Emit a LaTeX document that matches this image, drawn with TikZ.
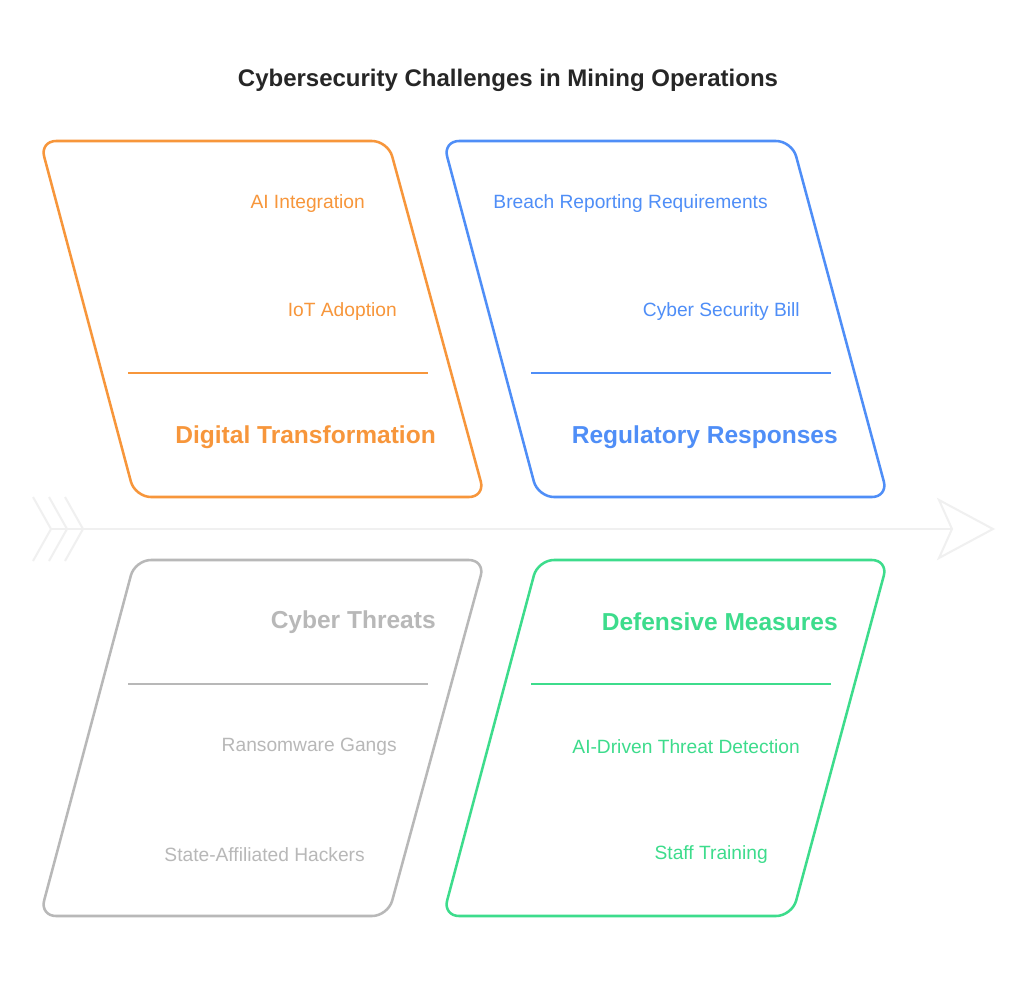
\documentclass[tikz,border=0pt]{standalone}
\usepackage{fontspec}
\setmainfont{Liberation Sans}
\definecolor{corange}{HTML}{F7963B}
\definecolor{cblue}{HTML}{4F8EF7}
\definecolor{cgray}{HTML}{B8B8B8}
\definecolor{cgreen}{HTML}{3DDC8C}
\definecolor{carrow}{HTML}{F0F0F0}
\definecolor{ctitle}{HTML}{262626}
\begin{document}
\begin{tikzpicture}[x=0.75pt,y=-0.75pt,
  panel/.style={line width=1.9pt,rounded corners=12pt},
  divider/.style={line width=1.5pt},
  item/.style={anchor=east,inner sep=0pt,font=\fontsize{14.4pt}{17pt}\selectfont},
  head/.style={anchor=east,inner sep=0pt,font=\fontsize{18.4pt}{21pt}\selectfont\bfseries},
  arrowline/.style={draw=carrow,line width=1.5pt,line join=miter}]
\useasboundingbox (0,0) rectangle (1024,981);
\fill[white] (0,0) rectangle (1024,981);
% title
\node[inner sep=0pt,text=ctitle,font=\fontsize{18pt}{21pt}\selectfont\bfseries] (title) at (508,80) {Cybersecurity Challenges in Mining Operations};
% central arrow
\coordinate (a0) at (51,529);
\coordinate (a1) at (952,529);
\draw[arrowline] (a0) -- (a1);
\draw[arrowline] (33,497) -- (51,529) -- (33,561);
\draw[arrowline] (49,497) -- (67,529) -- (49,561);
\draw[arrowline] (65,497) -- (83,529) -- (65,561);
\draw[arrowline] (939,500) -- (993,529) -- (939,558) -- (952,529) -- cycle;
% panels
\draw[panel,corange] (40,141) -- (388,141) -- (485,497) -- (135,497) -- cycle;
\draw[panel,cblue] (443,141) -- (792,141) -- (888,497) -- (538,497) -- cycle;
\draw[panel,cgray] (135,560) -- (485,560) -- (388,916) -- (40,916) -- cycle;
\draw[panel,cgreen] (538,560) -- (888,560) -- (792,916) -- (443,916) -- cycle;
% dividers
\draw[divider,corange] (128,373) -- (428,373);
\draw[divider,cblue] (531,373) -- (831,373);
\draw[divider,cgray] (128,684) -- (428,684);
\draw[divider,cgreen] (531,684) -- (831,684);
% texts
\node[item,text=corange] (t1) at (365,204) {AI Integration};
\node[item,text=corange] (t2) at (397,312) {IoT Adoption};
\node[head,text=corange] (h1) at (436,437) {Digital Transformation};
\node[item,text=cblue] (t3) at (768,204) {Breach Reporting Requirements};
\node[item,text=cblue] (t4) at (800,312) {Cyber Security Bill};
\node[head,text=cblue] (h2) at (838,437) {Regulatory Responses};
\node[head,text=cgray] (h3) at (436,622) {Cyber Threats};
\node[item,text=cgray] (t5) at (397,747) {Ransomware Gangs};
\node[item,text=cgray] (t6) at (365,855) {State-Affiliated Hackers};
\node[head,text=cgreen] (h4) at (838,622) {Defensive Measures};
\node[item,text=cgreen] (t7) at (800,747) {AI-Driven Threat Detection};
\node[item,text=cgreen] (t8) at (768,855) {Staff Training};
\end{tikzpicture}
\end{document}
